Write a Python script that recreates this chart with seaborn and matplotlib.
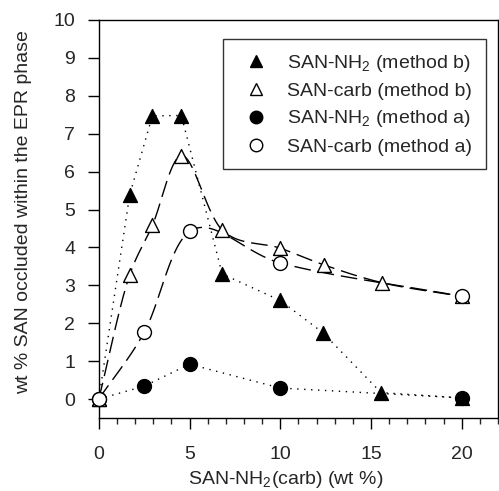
import numpy as np
import pandas as pd
import matplotlib
matplotlib.use("Agg")
import matplotlib.pyplot as plt
from matplotlib.lines import Line2D
from matplotlib.ticker import MultipleLocator
import seaborn as sns

# Data
x_nh2_b = [0, 1.7, 2.95, 4.55, 6.8, 10.0, 12.35, 15.55, 20]
y_nh2_b = [0, 5.38, 7.47, 7.48, 3.3, 2.6, 1.75, 0.17, 0.03]

x_carb_b = [0, 1.7, 2.95, 4.55, 6.8, 10.0, 12.4, 15.6, 20]
y_carb_b = [0, 3.27, 4.58, 6.42, 4.46, 3.98, 3.54, 3.07, 2.71]

x_nh2_a = [0, 2.5, 5.0, 10.0, 20]
y_nh2_a = [0, 0.34, 0.92, 0.29, 0.03]

x_carb_a = [0, 2.5, 5.0, 10.0, 20]
y_carb_a = [0, 1.76, 4.42, 3.59, 2.71]

labels = ["SAN-NH$_2$ (method b)", "SAN-carb (method b)",
          "SAN-NH$_2$ (method a)", "SAN-carb (method a)"]
xlabel = "SAN-NH$_2$(carb) (wt %)"
ylabel = "wt % SAN occluded within the EPR phase"

sns.set_style("ticks")
plt.rcParams['font.family'] = ['Liberation Sans', 'DejaVu Sans']
plt.rcParams['mathtext.fontset'] = 'custom'
plt.rcParams['mathtext.rm'] = 'Liberation Sans'
plt.rcParams['mathtext.it'] = 'Liberation Sans'


def catmull_rom(xs, ys, n=30):
    P = np.column_stack([xs, ys]).astype(float)
    P = np.vstack([2 * P[0] - P[1], P, 2 * P[-1] - P[-2]])
    out = []
    for i in range(1, len(P) - 2):
        p0, p1, p2, p3 = P[i - 1], P[i], P[i + 1], P[i + 2]

        def tj(ti, a, b):
            return ti + np.linalg.norm(b - a) ** 0.5
        t0 = 0.0
        t1 = tj(t0, p0, p1)
        t2 = tj(t1, p1, p2)
        t3 = tj(t2, p2, p3)
        t = np.linspace(t1, t2, n)[:, None]
        A1 = (t1 - t) / (t1 - t0) * p0 + (t - t0) / (t1 - t0) * p1
        A2 = (t2 - t) / (t2 - t1) * p1 + (t - t1) / (t2 - t1) * p2
        A3 = (t3 - t) / (t3 - t2) * p2 + (t - t2) / (t3 - t2) * p3
        B1 = (t2 - t) / (t2 - t0) * A1 + (t - t0) / (t2 - t0) * A2
        B2 = (t3 - t) / (t3 - t1) * A2 + (t - t1) / (t3 - t1) * A3
        C = (t2 - t) / (t2 - t1) * B1 + (t - t1) / (t2 - t1) * B2
        out.append(C if i == 1 else C[1:])
    C = np.vstack(out)
    return C[:, 0], C[:, 1]


fig = plt.figure(figsize=(4.99, 4.91), dpi=100)
ax = fig.add_axes([0.198, 0.1487, 0.800, 0.8106])

lw = 1.0
sns.lineplot(x=x_nh2_b, y=y_nh2_b, ax=ax, color='black', lw=lw,
             linestyle=(0, (1, 4)), estimator=None, sort=False, legend=False)
sns.lineplot(x=x_nh2_a, y=y_nh2_a, ax=ax, color='black', lw=lw,
             linestyle=(0, (1, 4)), estimator=None, sort=False, legend=False)
cx, cy = catmull_rom(x_carb_b, y_carb_b)
sns.lineplot(x=cx, y=cy, ax=ax, color='black', lw=lw,
             linestyle=(0, (12, 5)), estimator=None, sort=False, legend=False)
cx, cy = catmull_rom(x_carb_a, y_carb_a)
sns.lineplot(x=cx, y=cy, ax=ax, color='black', lw=lw,
             linestyle=(0, (12, 5)), estimator=None, sort=False, legend=False)

ms = 100
sns.scatterplot(x=x_nh2_b, y=y_nh2_b, ax=ax, marker='^', s=ms, color='black',
                edgecolor='black', linewidth=1, zorder=3, clip_on=False)
sns.scatterplot(x=x_carb_b, y=y_carb_b, ax=ax, marker='^', s=ms, color='white',
                edgecolor='black', linewidth=1, zorder=3, clip_on=False)
sns.scatterplot(x=x_nh2_a, y=y_nh2_a, ax=ax, marker='o', s=ms, color='black',
                edgecolor='black', linewidth=1, zorder=4, clip_on=False)
sns.scatterplot(x=x_carb_a, y=y_carb_a, ax=ax, marker='o', s=ms, color='white',
                edgecolor='black', linewidth=1, zorder=5, clip_on=False)

ax.set_xlim(0, 22)
ax.set_ylim(-0.5, 10)
ax.xaxis.set_major_locator(MultipleLocator(5))
ax.xaxis.set_minor_locator(MultipleLocator(1))
ax.yaxis.set_major_locator(MultipleLocator(1))
ax.tick_params(axis='both', which='major', direction='out', length=8,
               width=1, labelsize=14, color='black')
ax.tick_params(axis='y', which='major', pad=9)
ax.tick_params(axis='x', which='major', pad=12)
ax.tick_params(axis='x', which='minor', direction='out', length=4, width=1)
for s in ax.spines.values():
    s.set_visible(True)
    s.set_linewidth(1)
    s.set_color('black')

ax.set_xlabel(xlabel, fontsize=14)
ax.set_ylabel(ylabel, fontsize=14)
ax.xaxis.set_label_coords(0.468, -0.128)
ax.yaxis.set_label_coords(-0.168, 0.518)

handles = [
    Line2D([], [], ls='none', marker='^', ms=9, mfc='black', mec='black'),
    Line2D([], [], ls='none', marker='^', ms=9, mfc='white', mec='black'),
    Line2D([], [], ls='none', marker='o', ms=9, mfc='black', mec='black'),
    Line2D([], [], ls='none', marker='o', ms=9, mfc='white', mec='black'),
]
leg = ax.legend(handles, labels, loc='upper right', bbox_to_anchor=(0.970, 0.952),
                fontsize=14, frameon=True, fancybox=False, edgecolor='black',
                handlelength=2.0, handletextpad=0.6, labelspacing=0.44,
                borderpad=0.7, borderaxespad=0)
leg.get_frame().set_linewidth(1)

fig.savefig("out.png", dpi=100)
